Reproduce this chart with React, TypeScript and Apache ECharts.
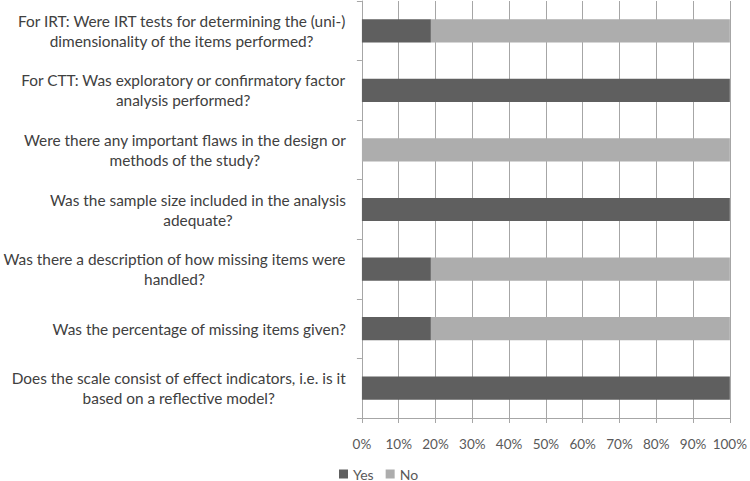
import React, { useEffect, useRef } from "react";
import * as echarts from "echarts";

const categories = [
  "For IRT: Were IRT tests for determining the (uni-)\ndimensionality of the items performed?",
  "For CTT: Was exploratory or confirmatory factor\nanalysis performed?",
  "Were there any important flaws in the design or\nmethods of the study?",
  "Was the sample size included in the analysis\nadequate?",
  "Was there a description of how missing items were\nhandled?",
  "Was the percentage of missing items given?",
  "Does the scale consist of effect indicators, i.e. is it\nbased on a reflective model?",
];
const yesValues = [18.75, 100, 0, 100, 18.75, 18.75, 100];
const noValues = [81.25, 0, 100, 0, 81.25, 81.25, 0];
const seriesNames = ["Yes", "No"];

const FONT = "Lato, 'Open Sans', sans-serif";

export default function App() {
  const ref = useRef<HTMLDivElement>(null);
  useEffect(() => {
    if (!ref.current) return;
    const chart = echarts.init(ref.current, undefined, { renderer: "svg" });
    chart.setOption({
      animation: false,
      backgroundColor: "#ffffff",
      grid: { left: 361, right: 20, top: 1, bottom: 63, containLabel: false },
      legend: {
        data: seriesNames,
        left: 339,
        top: 466,
        padding: 0,
        itemWidth: 9,
        itemHeight: 9,
        itemGap: 12,
        icon: "rect",
        textStyle: {
          fontFamily: FONT,
          fontSize: 14,
          lineHeight: 16,
          color: "#595959",
        },
      },
      xAxis: {
        type: "value",
        min: 0,
        max: 100,
        interval: 10,
        axisLine: { show: true, lineStyle: { color: "#a6a6a6", width: 1 } },
        axisTick: { show: true, length: 5, lineStyle: { color: "#a6a6a6" } },
        splitLine: { show: true, lineStyle: { color: "#a6a6a6", width: 1 } },
        axisLabel: {
          formatter: "{value}%",
          fontFamily: FONT,
          fontSize: 13.5,
          color: "#595959",
          margin: 19,
        },
      },
      yAxis: {
        type: "category",
        inverse: true,
        data: categories,
        axisLine: { show: true, lineStyle: { color: "#a6a6a6", width: 1 } },
        axisTick: { show: true, length: 5, lineStyle: { color: "#a6a6a6" } },
        splitLine: { show: false },
        axisLabel: {
          margin: 16,
          align: "right",
          formatter: (v: string) =>
            v
              .split("\n")
              .map((l) => `{c|${l}}`)
              .join("\n"),
          rich: {
            c: {
              align: "center",
              fontFamily: FONT,
              fontSize: 15.4,
              lineHeight: 20,
              color: "#404040",
            },
          },
        },
      },
      series: [
        {
          name: seriesNames[0],
          type: "bar",
          stack: "total",
          barWidth: "39%",
          data: yesValues,
          itemStyle: { color: "#5f5f5f" },
        },
        {
          name: seriesNames[1],
          type: "bar",
          stack: "total",
          barWidth: "39%",
          data: noValues,
          itemStyle: { color: "#adadad" },
        },
      ],
    });
    return () => chart.dispose();
  }, []);
  return (
    <div
      ref={ref}
      style={{ position: "fixed", left: 0, top: 0, width: 750, height: 481 }}
    />
  );
}
